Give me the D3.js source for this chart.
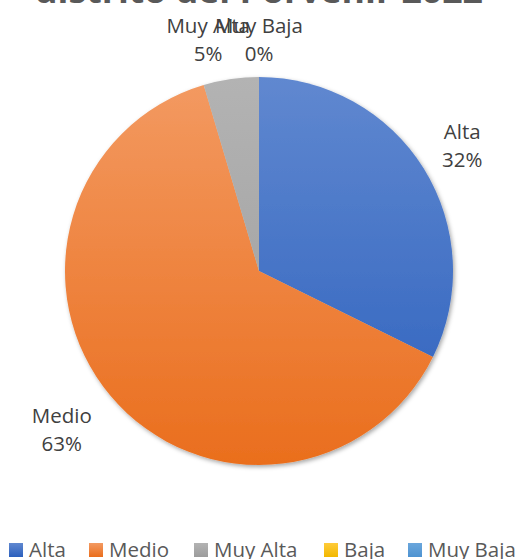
<!DOCTYPE html>
<html>
<head>
<meta charset="utf-8">
<script src="https://cdn.jsdelivr.net/npm/d3@7"></script>
<style>
  html, body { margin: 0; padding: 0; background: #fff; }
  svg { display: block; }
  text { font-family: "Open Sans", sans-serif; }
</style>
</head>
<body>
<svg id="chart" width="521" height="559"></svg>
<script>
const categories = ["Alta", "Medio", "Muy Alta", "Baja", "Muy Baja"];
const values = [32.3, 63.1, 4.6, 0, 0];
const titleText = "distrito del Porvenir 2022";

const svg = d3.select("#chart");
const cx = 259, cy = 271, R = 194;

const colorTop = ["#6088D0", "#F39A62", "#B3B3B3", "#FFCB3A", "#6AA6DC"];
const colorBot = ["#2C60BD", "#EA6E1D", "#9C9C9C", "#F2B800", "#4E93D1"];

const defs = svg.append("defs");
categories.forEach((c, i) => {
  const g = defs.append("linearGradient")
    .attr("id", "grad" + i)
    .attr("gradientUnits", "userSpaceOnUse")
    .attr("x1", 0).attr("y1", -R).attr("x2", 0).attr("y2", R);
  g.append("stop").attr("offset", "0%").attr("stop-color", colorTop[i]);
  g.append("stop").attr("offset", "100%").attr("stop-color", colorBot[i]);
  const lg = defs.append("linearGradient")
    .attr("id", "lgrad" + i).attr("x1", 0).attr("y1", 0).attr("x2", 0).attr("y2", 1);
  lg.append("stop").attr("offset", "0%").attr("stop-color", colorTop[i]);
  lg.append("stop").attr("offset", "100%").attr("stop-color", colorBot[i]);
});
const f = defs.append("filter").attr("id", "shadow")
  .attr("x", "-10%").attr("y", "-10%").attr("width", "120%").attr("height", "120%");
f.append("feDropShadow").attr("dx", 1.5).attr("dy", 2).attr("stdDeviation", 2)
  .attr("flood-color", "#000").attr("flood-opacity", 0.35);

// Title (partly cut at top)
svg.append("text")
  .attr("x", 259).attr("y", 3)
  .attr("text-anchor", "middle")
  .attr("font-size", 32).attr("font-weight", "bold")
  .attr("fill", "#595959")
  .attr("textLength", 448).attr("lengthAdjust", "spacingAndGlyphs")
  .text(titleText);

const data = categories.map((c, i) => ({ cat: c, value: values[i], i }));
const pie = d3.pie().value(d => d.value).sort(null);
const arcs = pie(data);
const arc = d3.arc().innerRadius(0).outerRadius(R);

const g = svg.append("g").attr("transform", `translate(${cx},${cy})`);
g.append("g").attr("filter", "url(#shadow)")
  .selectAll("path")
  .data(arcs.filter(a => a.data.value > 0))
  .join("path")
  .attr("d", arc)
  .attr("fill", d => `url(#grad${d.data.i})`);

// Data labels (best-fit outside the pie)
const labelLayout = {
  "Alta":     { r: 235, nudge: 1.7 },
  "Medio":    { r: 258, nudge: 0 },
  "Muy Alta": { r: 230, nudge: -4.5 },
  "Muy Baja": { r: 224, nudge: 0 }
};
const total = d3.sum(values);
arcs.filter(a => labelLayout[a.data.cat]).forEach(a => {
  const L = labelLayout[a.data.cat];
  const mid = (a.startAngle + a.endAngle) / 2 + L.nudge * Math.PI / 180;
  const x = cx + L.r * Math.sin(mid);
  const y = cy - L.r * Math.cos(mid);
  const t = svg.append("text")
    .attr("text-anchor", "middle")
    .attr("font-size", 20.5)
    .attr("fill", "#404040");
  t.append("tspan").attr("x", x).attr("y", y - 14).text(a.data.cat);
  t.append("tspan").attr("x", x).attr("y", y + 14)
    .text(Math.round(a.data.value / total * 100) + "%");
});

// Legend
const legendX = [9, 89, 194, 324, 408];
const lg = svg.append("g");
categories.forEach((c, i) => {
  lg.append("rect")
    .attr("x", legendX[i]).attr("y", 543)
    .attr("width", 14).attr("height", 14)
    .attr("fill", `url(#lgrad${i})`);
  lg.append("text")
    .attr("x", legendX[i] + 20).attr("y", 557)
    .attr("font-size", 20.5)
    .attr("fill", "#595959")
    .text(c);
});
</script>
</body>
</html>
